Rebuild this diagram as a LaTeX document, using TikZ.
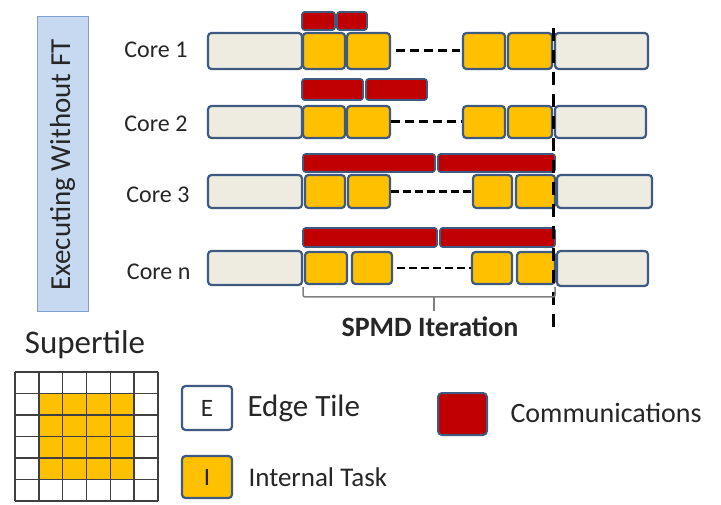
\documentclass[tikz,border=0pt]{standalone}
\usepackage{fontspec}
\setmainfont{Carlito}
\definecolor{boxline}{HTML}{3E5A80}
\definecolor{idlegray}{HTML}{EEECE1}
\definecolor{taskyellow}{HTML}{FFC000}
\definecolor{commred}{HTML}{C00000}
\definecolor{vfill}{HTML}{C6D9F1}
\definecolor{vline}{HTML}{7F9FD0}
\definecolor{txt}{HTML}{262626}
\definecolor{gridc}{HTML}{404040}
\definecolor{bracketc}{HTML}{808080}
\newcommand\bx[7]{\node[#1, minimum width={(#4)-(#2)}, minimum height={(#5)-(#3)}] (#6) at ({((#2)+(#4))/2},{((#3)+(#5))/2}) {#7};}
\begin{document}
\begin{tikzpicture}[x=1pt,y=-1pt,
  base/.style={draw=boxline, line width=2.2pt, rounded corners=3.5pt, inner sep=0pt},
  idle/.style={base, fill=idlegray},
  task/.style={base, fill=taskyellow},
  comm/.style={base, fill=commred, line width=1.6pt, rounded corners=2.5pt},
  vbox/.style={draw=vline, line width=1pt, fill=vfill, inner sep=0pt},
  corelbl/.style={anchor=east, text=txt, font=\fontsize{24}{28}\selectfont},
  hdash/.style={black, line width=3pt, dash pattern=on 9pt off 5pt},
  hdashthin/.style={black, line width=2.4pt, dash pattern=on 8pt off 4pt},
  vdash/.style={black, line width=3pt, dash pattern=on 13pt off 9pt},
  bracket/.style={draw=bracketc, line width=1.5pt, rounded corners=2pt},
  gridline/.style={draw=gridc, line width=1.6pt},
  legtxt/.style={anchor=west, text=txt},
]
\useasboundingbox (0,0) rectangle (721,505);
\fill[white] (0,0) rectangle (721,505);

% vertical label
\bx{vbox}{37}{17}{88}{312}{vb}{}
\node[rotate=90, text=txt, font=\fontsize{29}{32}\selectfont] (vt) at (62.5,165) {Executing Without FT};

% Core 1
\node[corelbl] (c1) at (191,50) {Core 1};
\bx{comm}{302}{12}{335}{30}{r1a}{}
\bx{comm}{337}{12}{367}{30}{r1b}{}
\bx{idle}{208}{33}{302}{69}{g1l}{}
\bx{task}{303}{33}{345}{69}{y1a}{}
\bx{task}{347}{33}{390}{69}{y1b}{}
\bx{task}{463}{33}{505}{69}{y1c}{}
\bx{task}{508}{33}{552}{69}{y1d}{}
\bx{idle}{555}{33}{648}{69}{g1r}{}
\draw[hdash] ([xshift=5pt]y1b.east) -- ([xshift=-2pt]y1c.west);

% Core 2
\node[corelbl] (c2) at (191,124) {Core 2};
\bx{comm}{302}{79}{363}{100}{r2a}{}
\bx{comm}{366}{79}{427}{100}{r2b}{}
\bx{idle}{208}{106}{302}{138}{g2l}{}
\bx{task}{303}{106}{345}{138}{y2a}{}
\bx{task}{347}{106}{390}{138}{y2b}{}
\bx{task}{463}{106}{505}{138}{y2c}{}
\bx{task}{508}{106}{552}{138}{y2d}{}
\bx{idle}{555}{106}{646}{138}{g2r}{}
\draw[hdash] (y2b.east) -- (y2c.west);

% Core 3
\node[corelbl] (c3) at (193,195) {Core 3};
\bx{comm}{303}{154}{435}{172}{r3a}{}
\bx{comm}{438}{154}{555}{172}{r3b}{}
\bx{idle}{208}{175}{302}{208}{g3l}{}
\bx{task}{305}{175}{345}{208}{y3a}{}
\bx{task}{348}{175}{390}{208}{y3b}{}
\bx{task}{473}{175}{512}{208}{y3c}{}
\bx{task}{516}{175}{555}{208}{y3d}{}
\bx{idle}{557}{175}{652}{208}{g3r}{}
\draw[hdashthin] (y3b.east) -- (y3c.west);

% Core n
\node[corelbl] (cn) at (194,272) {Core n};
\bx{comm}{303}{228}{437}{247}{rna}{}
\bx{comm}{440}{228}{555}{247}{rnb}{}
\bx{idle}{208}{251}{302}{285}{gnl}{}
\bx{task}{305}{252}{347}{284}{yna}{}
\bx{task}{352}{252}{392}{284}{ynb}{}
\bx{task}{472}{252}{512}{284}{ync}{}
\bx{task}{517}{252}{555}{284}{ynd}{}
\bx{idle}{557}{251}{648}{286}{gnr}{}
\draw[hdashthin] ([xshift=4pt]ynb.east) -- (ync.west);

% vertical dashed marker
\coordinate (vtop) at (553,28);
\coordinate (vbot) at (553,335);
\draw[vdash] (vtop) -- (vbot);

% bracket
\coordinate (bl) at (303,287);
\coordinate (br) at (555,287);
\coordinate (bm) at (434,297);
\coordinate (bt) at (434,311);
\draw[bracket] (bl) -- (303,297) -- (555,297) -- (br);
\draw[bracket] (bm) -- (bt);
\node[text=txt, font=\bfseries\fontsize{28}{32}\selectfont] (spmd) at (430,327) {SPMD Iteration};

% supertile
\node[text=txt, font=\fontsize{33}{36}\selectfont] (st) at (85,345) {Supertile};
\fill[taskyellow] (38.83,393.5) rectangle (134.17,479.5);
\foreach \k in {0,...,6} {
  \draw[gridline] ({15+\k*23.833},372) -- ({15+\k*23.833},501);
  \draw[gridline] (15,{372+\k*21.5}) -- (158,{372+\k*21.5});
}

% legend
\bx{base, fill=white, font=\fontsize{25}{27}\selectfont, text=txt}{182}{386}{232}{430}{legE}{E}
\node[legtxt, font=\fontsize{31}{34}\selectfont] (legEt) at (244,408) {Edge Tile};
\bx{task, font=\fontsize{25}{27}\selectfont, text=txt}{182}{456}{232}{498}{legI}{I}
\node[legtxt, font=\fontsize{27}{30}\selectfont] (legIt) at (245,477) {Internal Task};
\bx{comm, line width=2pt, rounded corners=4pt}{438}{393}{487}{435}{legC}{}
\node[legtxt, font=\fontsize{28}{31}\selectfont] (legCt) at (507,413) {Communications};
\end{tikzpicture}
\end{document}
